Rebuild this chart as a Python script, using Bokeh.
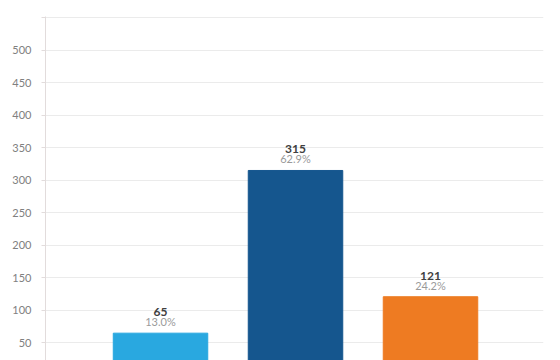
from bokeh.plotting import figure
from bokeh.models import Range1d, FixedTicker, ColumnDataSource
from bokeh.core.properties import value
from bokeh.embed import file_html
from bokeh.resources import INLINE

categories = ["A", "B", "C"]
counts = [65, 315, 121]
percents = ["13.0%", "62.9%", "24.2%"]
colors = ["#29a8e0", "#15568e", "#ee7b22"]
y_ticks = [50, 100, 150, 200, 250, 300, 350, 400, 450, 500, 550]

xs = list(range(len(categories)))
src = ColumnDataSource(dict(x=xs, top=counts, pct=percents, color=colors,
                            num=[str(c) for c in counts]))

p = figure(width=560, height=360, output_backend="svg", toolbar_location=None,
           x_range=Range1d(-0.852, 2.837), y_range=Range1d(23, 551.6),
           min_border_left=45, min_border_right=17, min_border_top=16, min_border_bottom=0)
p.outline_line_color = None
p.background_fill_color = "white"
p.border_fill_color = "white"

p.vbar(x="x", top="top", bottom=0, width=0.7, color="color", source=src)

p.text(x="x", y="top", text="pct", source=src, y_offset=-5,
       text_align="center", text_baseline="bottom", text_font=value("Lato"),
       text_font_size="11px", text_color="#9a9a9a")
p.text(x="x", y="top", text="num", source=src, y_offset=-17,
       text_align="center", text_baseline="bottom", text_font=value("Lato"),
       text_font_size="12px", text_font_style="bold", text_color="#404040")

p.xaxis.visible = False
p.xgrid.grid_line_color = None
p.yaxis.ticker = FixedTicker(ticks=y_ticks)
p.yaxis.major_label_overrides = {550: ""}
p.yaxis.axis_line_color = "#e2dcdc"
p.yaxis.major_tick_line_color = "#e2dcdc"
p.yaxis.major_tick_out = 4
p.yaxis.major_tick_in = 0
p.yaxis.minor_tick_line_color = None
p.yaxis.major_label_text_font = "Lato"
p.yaxis.major_label_text_font_size = "11px"
p.yaxis.major_label_text_color = "#808080"
p.yaxis.major_label_standoff = 10
p.ygrid.ticker = FixedTicker(ticks=y_ticks)
p.ygrid.grid_line_color = "#ebebeb"

open("out.html", "w").write(file_html(p, INLINE))
